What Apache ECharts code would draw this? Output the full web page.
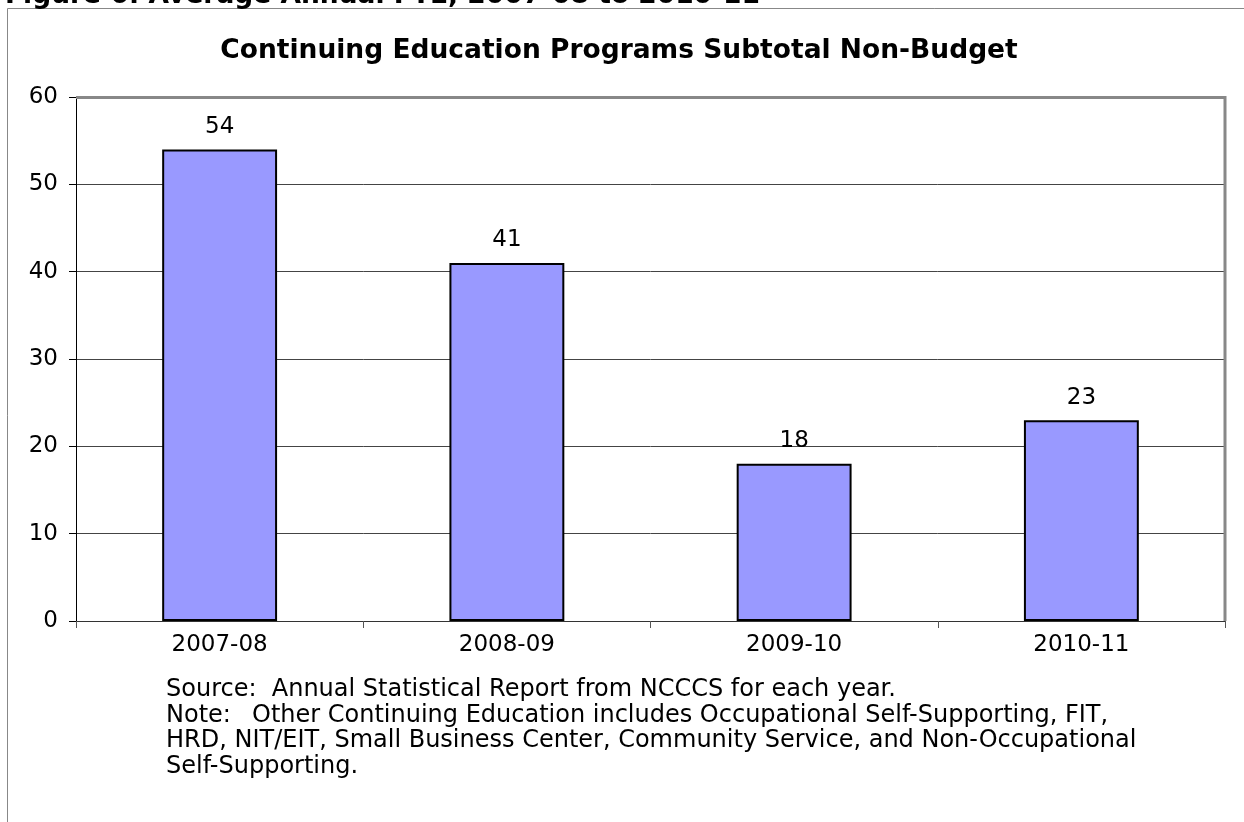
<!DOCTYPE html>
<html>
<head>
<meta charset="utf-8">
<script src="https://cdn.jsdelivr.net/npm/echarts@6/dist/echarts.min.js"></script>
<style>
  html, body { margin: 0; padding: 0; background: #fff; }
  #chart { width: 1244px; height: 822px; }
</style>
</head>
<body>
<div id="chart"></div>
<script>
// Average annual FTE by academic year
const years = ['2007-08', '2008-09', '2009-10', '2010-11'];
const fteValues = [54, 41, 18, 23];
const yTicks = { min: 0, max: 60, interval: 10 };

const headerText = 'Figure 6: Average Annual FTE, 2007-08 to 2010-11';
const chartTitle = 'Continuing Education Programs Subtotal Non-Budget';
const sourceLine = 'Source:  Annual Statistical Report from NCCCS for each year.';
const noteLabel = 'Note:';
const noteLines = [
  'Other Continuing Education includes Occupational Self-Supporting, FIT,',
  'HRD, NIT/EIT, Small Business Center, Community Service, and Non-Occupational',
  'Self-Supporting.'
];

const FONT = '"DejaVu Sans", "Liberation Sans", Arial, sans-serif';
const chart = echarts.init(document.getElementById('chart'), null, { renderer: 'canvas' });

const textAt = (x, y, text, extra) => ({
  type: 'text', x, y,
  style: Object.assign({ text, font: '24px ' + FONT, fill: '#000', verticalAlign: 'middle' }, extra || {})
});

chart.setOption({
  animation: false,
  backgroundColor: '#fff',
  textStyle: { fontFamily: FONT },
  title: {
    text: chartTitle,
    left: 614,
    textAlign: 'center',
    top: 33,
    textStyle: { fontSize: 26.5, fontWeight: 'bold', color: '#000', fontFamily: FONT }
  },
  grid: { left: 76, right: 19, top: 97, bottom: 201 },
  xAxis: {
    type: 'category',
    data: years,
    axisLine: { lineStyle: { color: '#333', width: 1 } },
    axisTick: { show: true, length: 7, lineStyle: { color: '#555' } },
    axisLabel: { fontSize: 23, color: '#000', margin: 13, fontFamily: FONT },
    splitLine: { show: false }
  },
  yAxis: {
    type: 'value',
    min: yTicks.min, max: yTicks.max, interval: yTicks.interval,
    axisLine: { show: true, lineStyle: { color: '#000', width: 1 } },
    axisTick: { show: true, length: 7, lineStyle: { color: '#000' } },
    axisLabel: { fontSize: 23, color: '#000', margin: 18, fontFamily: FONT },
    splitLine: { show: true, lineStyle: { color: '#444', width: 1 } }
  },
  series: [{
    type: 'bar',
    data: fteValues,
    barWidth: '40%',
    itemStyle: { color: '#9999FF', borderColor: '#000', borderWidth: 2 },
    label: {
      show: true, position: 'top', distance: 11,
      fontSize: 23, color: '#000', fontFamily: FONT
    }
  }],
  graphic: [
    // outer frame
    { type: 'polyline', shape: { points: [[7.5, 822], [7.5, 8.5], [1244, 8.5]] },
      style: { stroke: '#888', lineWidth: 1, fill: null } },
    // header text, clipped at the top edge
    textAt(5, -4, headerText, { font: 'bold 26.5px ' + FONT }),
    // plot-area frame (top and right)
    { type: 'polyline', z: 10, shape: { points: [[76, 97.5], [1225, 97.5], [1225, 621]] },
      style: { stroke: '#888', lineWidth: 3, fill: null } },
    // source and note
    textAt(166, 690, sourceLine),
    textAt(166, 716, noteLabel),
    textAt(252, 716, noteLines[0]),
    textAt(166, 741, noteLines[1]),
    textAt(166, 767, noteLines[2])
  ]
});
</script>
</body>
</html>
